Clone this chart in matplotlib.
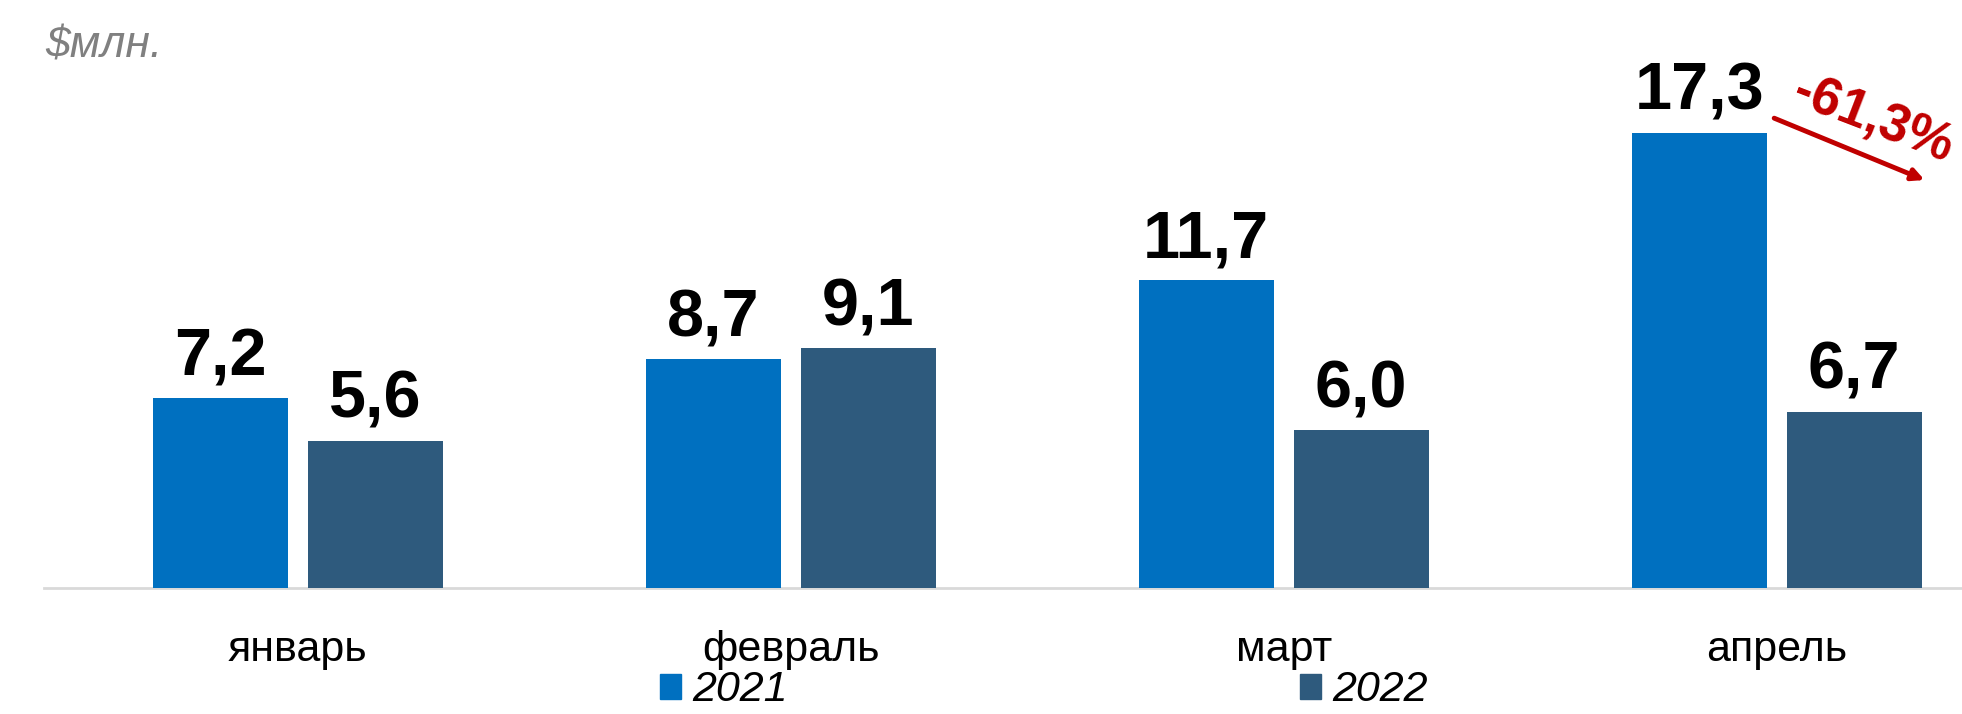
import matplotlib
matplotlib.use("Agg")
import matplotlib.pyplot as plt
import numpy as np
from matplotlib.patches import Patch

categories = ["январь", "февраль", "март", "апрель"]
series_names = ["2021", "2022"]
values_2021 = [7.2, 8.7, 11.7, 17.3]
values_2022 = [5.6, 9.1, 6.0, 6.7]
value_labels_2021 = ["7,2", "8,7", "11,7", "17,3"]
value_labels_2022 = ["5,6", "9,1", "6,0", "6,7"]
unit_label = "$млн."
change_label = "-61,3%"

c2021 = "#0070C0"
c2022 = "#2E5A7D"
red = "#C00000"

plt.rcParams['font.family'] = ['Liberation Sans', 'DejaVu Sans']

fig = plt.figure(figsize=(19.62, 7.14), dpi=100)
ax = fig.add_axes([0.0, 0.1765, 1.0, 0.8235])

x = np.arange(len(categories))
w = 0.274
off = 0.157
ax.bar(x - off, values_2021, width=w, color=c2021, label=series_names[0])
ax.bar(x + off, values_2022, width=w, color=c2022, label=series_names[1])

for xi, v, t in zip(x - off, values_2021, value_labels_2021):
    ax.annotate(t, (xi, v), xytext=(0, 16.5), textcoords="offset points",
                ha="center", va="baseline", fontsize=48, fontweight="bold", color="black")
for xi, v, t in zip(x + off, values_2022, value_labels_2022):
    ax.annotate(t, (xi, v), xytext=(0, 16.5), textcoords="offset points",
                ha="center", va="baseline", fontsize=48, fontweight="bold", color="black")

ax.set_xlim(-0.604, 3.376)
ax.set_ylim(0, 22.34)

# axis line
ax.plot([-0.515, 3.376], [0, 0], color="#D9D9D9", lw=2, zorder=0, clip_on=False)

for s in ax.spines.values():
    s.set_visible(False)
ax.set_yticks([])
ax.set_xticks(x)
ax.set_xticklabels(categories, fontsize=31)
ax.tick_params(axis="x", length=0, pad=30)

fig.text(0.023, 0.935, unit_label, fontsize=32, style="italic", color="#808080",
         ha="left", va="center")

# change annotation
ax.annotate("", xy=(3.30, 15.5), xytext=(2.995, 17.85),
            arrowprops=dict(arrowstyle="-|>,head_length=0.7,head_width=0.35", color=red, lw=3.5,
                            shrinkA=0, shrinkB=0))
ax.text(3.195, 17.8, change_label, rotation=-21, rotation_mode="anchor",
        fontsize=38, fontweight="bold", color=red, ha="center", va="center")

handles = [Patch(color=c2021), Patch(color=c2022)]
fig.legend(handles, series_names, loc="center left", bbox_to_anchor=(0.3165, 0.033),
           ncol=2, frameon=False, handlelength=0.5, handleheight=0.52,
           handletextpad=0.25, columnspacing=11.9,
           prop={"family": ["Liberation Sans Narrow", "Liberation Sans"], "style": "italic", "size": 31})

fig.savefig("out.png", dpi=100)
